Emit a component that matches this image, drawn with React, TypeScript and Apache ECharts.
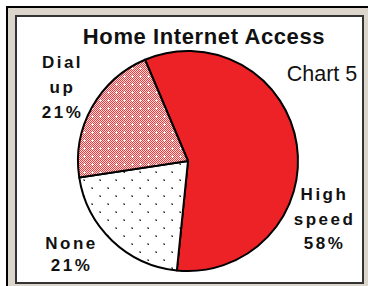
import React, { useEffect, useRef } from 'react';
import * as echarts from 'echarts';

const categories = ['High speed', 'None', 'Dial up'];
const shares = [58, 21, 21];
const titleText = 'Home Internet Access';
const chartTag = 'Chart 5';

const FONT = '"Liberation Sans", Arial, sans-serif';

function makeDialPattern(): HTMLCanvasElement {
  const c = document.createElement('canvas');
  c.width = 8;
  c.height = 8;
  const ctx = c.getContext('2d')!;
  for (let y = 0; y < 8; y++) {
    for (let x = 0; x < 8; x++) {
      ctx.fillStyle = (x + y) % 2 === 0 ? '#ef3a3e' : '#ffdede';
      ctx.fillRect(x, y, 1, 1);
    }
  }
  ctx.fillStyle = '#ffffff';
  ctx.fillRect(3, 4, 3, 1);
  ctx.fillRect(4, 3, 1, 3);
  return c;
}

function makeNonePattern(): HTMLCanvasElement {
  const c = document.createElement('canvas');
  c.width = 16;
  c.height = 16;
  const ctx = c.getContext('2d')!;
  ctx.fillStyle = '#ffffff';
  ctx.fillRect(0, 0, 16, 16);
  ctx.fillStyle = '#9a9a9a';
  ctx.fillRect(3, 3, 2, 2);
  ctx.fillRect(11, 11, 2, 2);
  ctx.fillStyle = '#333333';
  ctx.fillRect(4, 4, 1, 1);
  ctx.fillRect(12, 12, 1, 1);
  return c;
}

export default function App() {
  const ref = useRef<HTMLDivElement>(null);
  useEffect(() => {
    const el = ref.current!;
    const chart = echarts.init(el, null, { renderer: 'svg' });
    const fills: any[] = [
      '#ec2227',
      { image: makeNonePattern(), repeat: 'repeat' },
      { image: makeDialPattern(), repeat: 'repeat' },
    ];
    const labelPlace = [
      [324.5, 219, 24.5],
      [71.5, 254.5, 22.5],
      [62.5, 87, 25],
    ];
    chart.setOption({
      animation: false,
      graphic: [
        { type: 'rect', z: -10, shape: { x: 6, y: 6, width: 362, height: 280 }, style: { fill: '#dcd5cb' } },
        { type: 'rect', z: -9, shape: { x: 6, y: 6, width: 362, height: 2 }, style: { fill: '#000' } },
        { type: 'rect', z: -9, shape: { x: 6, y: 6, width: 2, height: 280 }, style: { fill: '#000' } },
        {
          type: 'rect',
          z: -8,
          shape: { x: 16, y: 16, width: 347, height: 267 },
          style: { fill: '#fff', stroke: '#333', lineWidth: 2 },
        },
        {
          type: 'text',
          x: 204,
          y: 36,
          style: {
            text: titleText,
            font: `bold 22px ${FONT}`,
            fill: '#111',
            align: 'center',
            verticalAlign: 'middle',
          },
        },
        {
          type: 'text',
          x: 322,
          y: 73.5,
          style: {
            text: chartTag,
            font: `21.5px ${FONT}`,
            fill: '#111',
            align: 'center',
            verticalAlign: 'middle',
          },
        },
      ],
      series: [
        {
          type: 'pie',
          center: [188, 161],
          radius: 110,
          startAngle: 113,
          clockwise: true,
          avoidLabelOverlap: false,
          emphasis: { disabled: true },
          itemStyle: { borderColor: '#000', borderWidth: 2 },
          labelLine: { show: false },
          label: {
            show: true,
            position: 'outside',
            fontFamily: FONT,
            fontWeight: 'bold',
            fontSize: 17,
            color: '#111',
            formatter: (p: any) => `${String(p.name).replace(' ', '\n')}\n${p.value}%`,
          },
          labelLayout: (p: any) => {
            const q = labelPlace[p.dataIndex];
            return { x: q[0], y: q[1], align: 'center', verticalAlign: 'middle' };
          },
          data: categories.map((name, i) => ({
            name,
            value: shares[i],
            itemStyle: { color: fills[i] },
            label: { lineHeight: labelPlace[i][2] },
          })),
        },
      ],
    });
    el.querySelectorAll('text').forEach((t) => {
      const s = (t.textContent || '').trim();
      let ls = 2.5;
      if (s === chartTag) ls = 0;
      else if (s === titleText) ls = 0.6;
      t.setAttribute('letter-spacing', String(ls));
    });
    return () => chart.dispose();
  }, []);
  return (
    <div
      ref={ref}
      style={{ position: 'fixed', left: 0, top: 0, width: 368, height: 286, background: '#fff' }}
    />
  );
}
